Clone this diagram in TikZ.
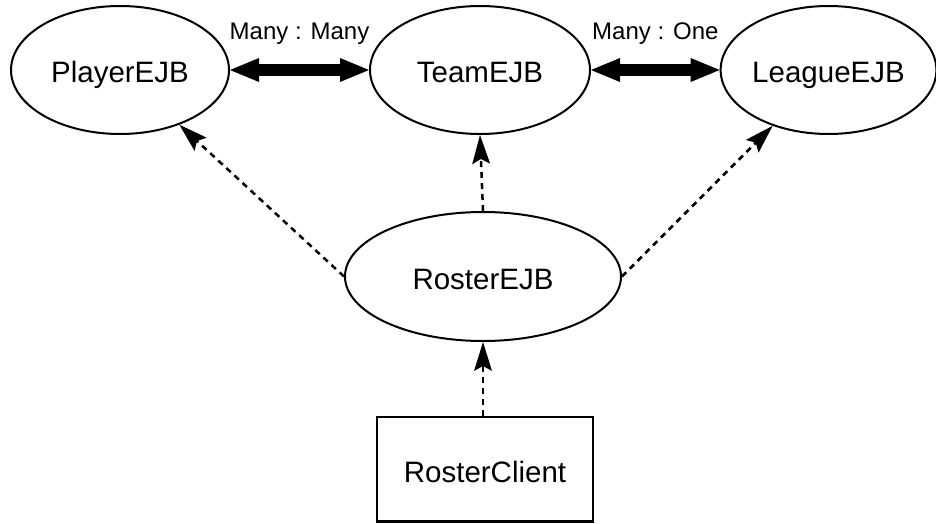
\documentclass[tikz,border=0pt]{standalone}
\usepackage{fontspec}
\setmainfont{Liberation Sans}
\usetikzlibrary{arrows.meta,shapes.geometric}
\begin{document}
\begin{tikzpicture}[x=1pt,y=1pt,
  bean/.style={draw,ellipse,line width=2pt,inner sep=0pt,
    font=\fontsize{29.5}{31}\selectfont,text height=26pt,text depth=0pt},
  clientbox/.style={draw,rectangle,line width=2.5pt,inner sep=0pt,
    font=\fontsize{29.5}{31}\selectfont,text height=26pt,text depth=0pt,
    minimum width=216pt,minimum height=104.5pt},
  relarrow/.style={line width=12pt,
    {Triangle[length=29pt,width=24pt,line width=0pt]}-{Triangle[length=29pt,width=24pt,line width=0pt]}},
  usearrow/.style={line width=2.5pt,dash pattern=on 6pt off 5pt,
    -{Stealth[length=29pt,width=18pt,inset=5pt,line width=0pt]}},
  rellabel/.style={midway,anchor=base,yshift=30.3pt,font=\fontsize{24}{26}\selectfont}
]
\useasboundingbox (0,0) rectangle (936,523);
\node[bean,minimum width=218pt,minimum height=128pt] (player) at (120,453) {PlayerEJB};
\node[bean,minimum width=220pt,minimum height=128pt] (team) at (480,453) {TeamEJB};
\node[bean,minimum width=209pt,minimum height=128pt] (league) at (828.5,453) {LeagueEJB};
\node[bean,minimum width=276pt,minimum height=129pt] (roster) at (483,246.5) {RosterEJB};
\node[clientbox] (client) at (485,53.75) {RosterClient};

\draw[relarrow] (player.east) -- (team.west) node[rellabel] {Many : Many};
\draw[relarrow] (team.east) -- (league.west) node[rellabel] {Many : One};

\draw[usearrow] (roster.west) -- (player);
\draw[usearrow] (roster.north) -- (team.south);
\draw[usearrow] (roster.east) -- (league);
\draw[usearrow] (client.north -| roster.south) -- (roster.south);
\end{tikzpicture}
\end{document}
